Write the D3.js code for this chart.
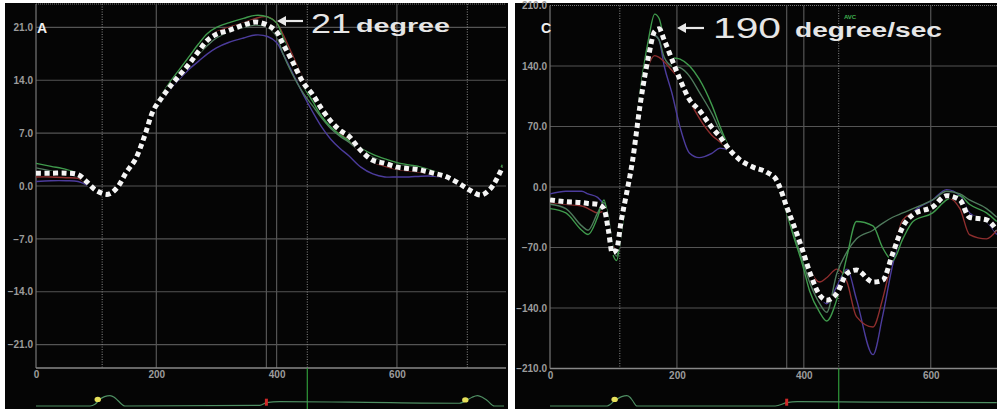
<!DOCTYPE html>
<html><head><meta charset="utf-8">
<script src="https://cdn.jsdelivr.net/npm/d3@7/dist/d3.min.js"></script>
<style>html,body{margin:0;padding:0;background:#fff;}svg{display:block;}</style>
</head><body>
<svg id="c" width="997" height="409"></svg>
<script>
// ---------- DATA ----------
// Panel A: rotation (degree) vs time (ms)
const leftTime   = [0,25,50,70,85,100,120,135,150,165,180,195,210,225,240,255,270,285,300,320,345,365,385,400,410,425,445,460,475,490,505,520,540,560,580,600,620,640,660,680,700,720,740,755,765,775];
const leftMean   = [1.7,1.7,1.7,1.5,0.5,-0.6,-1.1,-0.2,1.8,3.5,6.5,10,11.8,13.4,14.8,16.2,17.8,19.3,20.1,20.6,21.3,21.7,21.3,20.4,18.9,16.7,13.6,12.1,10.2,8.6,7.4,6.6,4.7,3.4,3.0,2.5,2.3,2.1,1.7,1.3,0.5,-0.5,-1.2,-0.4,0.8,2.4];
const leftGreen  = [3.0,2.6,2.2,1.6,0.6,-0.4,-1.0,-0.3,1.8,3.6,6.6,10.2,12.2,14.0,15.6,17.2,18.8,20.2,21.0,21.6,22.2,22.6,22.4,21.6,19.8,17.0,13.2,11.2,9.2,7.8,6.8,6.0,5.0,4.2,3.6,3.1,2.8,2.5,2.0,1.5,0.7,-0.3,-1.0,-0.2,1.0,2.8];
const leftDark   = [2.4,2.0,1.6,1.2,0.3,-0.5,-1.1,-0.3,1.6,3.3,6.2,9.6,11.4,13.2,14.6,16.0,17.4,18.6,19.6,20.4,21.0,21.3,21.0,19.8,17.6,15.0,12.2,10.6,9.0,7.6,6.6,5.8,4.6,3.8,3.2,2.8,2.6,2.3,1.8,1.2,0.4,-0.5,-1.1,-0.3,0.9,2.6];
const leftRed    = [1.2,1.2,1.1,1.0,0.3,-0.5,-1.0,-0.2,1.7,3.5,6.4,10.0,11.8,13.4,14.8,16.2,17.8,19.4,20.4,21.0,21.6,22.2,22.4,21.6,20.2,17.6,14.0,12.0,10.0,8.4,7.0,6.0,4.4,3.2,2.6,2.2,2.0,1.8,1.5,1.1,0.4,-0.5,-1.1,-0.3,0.9,2.6];
const leftPurple = [0.6,0.7,0.7,0.6,0.1,-0.6,-1.0,-0.3,1.6,3.4,6.2,9.6,11.4,13.0,14.3,15.5,16.5,17.5,18.3,19.0,19.6,20.0,19.8,19.0,17.6,15.2,12.0,9.8,7.8,6.2,5.0,4.0,2.5,1.6,1.2,1.2,1.2,1.3,1.3,1.1,0.4,-0.5,-1.1,-0.3,0.9,2.5];
const leftYTicks = [21,14,7,0,-7,-14,-21];
const leftXTicks = [0,200,400,600];
const leftGridX  = [200,400,600];
const leftSolidEvents  = [383];
const leftDottedEvents = [110,451,717];
const leftAvc = 451;
const leftEcgTime  = [0,90,98,106,114,123,130,136,148,372,383,405,521,704,710,717,725,734,742,750,762,778];
const leftEcgValue = [0,0,0.15,0.6,0.85,0.95,0.8,0.5,0,0.05,0.3,0.4,0.35,0.25,0.35,0.55,0.8,0.95,0.8,0.5,0,0];
const leftDots = [106,717];
const leftMark = 383;

// Panel C: rotation rate (degree/sec) vs time (ms)
const rightTime   = [0,25,50,60,75,85,92,98,105,112,120,130,142,155,165,172,180,192,205,220,235,255,268,283,300,320,342,357,362,373,383,398,409,425,436,452,468,483,509,524,540,556,572,603,625,646,661,688,704];
const rightMean   = [-15,-17,-18,-19,-20,-25,-50,-76,-72,-40,-10,30,95,150,180,183,170,148,124,101,89,69,58,43,31,23,17,8,0,-23,-42,-73,-98,-125,-131,-123,-100,-96,-110,-108,-77,-46,-32,-23,-10,-15,-35,-38,-50];
const rightGreen  = [-25,-30,-50,-55,-35,-15,-40,-75,-85,-55,-15,35,110,170,200,195,170,150,148,140,125,95,70,45,30,22,15,5,-5,-30,-55,-90,-120,-145,-155,-130,-80,-40,-45,-70,-85,-60,-40,-30,-15,-10,-20,-30,-40];
const rightDark   = [-20,-25,-45,-50,-30,-18,-35,-65,-80,-50,-12,30,100,160,175,170,150,140,138,128,110,85,65,45,30,22,15,6,-3,-28,-50,-85,-110,-135,-145,-100,-75,-60,-50,-42,-35,-30,-25,-15,-5,-8,-15,-25,-35];
const rightRed    = [-18,-20,-22,-25,-30,-28,-45,-70,-70,-40,-10,30,100,140,152,150,145,135,124,100,80,60,52,42,31,23,17,8,0,-23,-42,-73,-95,-110,-105,-95,-110,-150,-162,-130,-80,-38,-30,-22,-12,-25,-55,-60,-50];
const rightPurple = [-8,-5,-5,-8,-12,-22,-48,-72,-70,-40,-10,35,105,160,175,170,140,109,69,39,34,39,45,42,31,23,17,8,0,-23,-42,-73,-100,-125,-135,-115,-95,-130,-194,-150,-90,-50,-30,-15,-3,-10,-30,-40,-55];
const rightYTicks = [210,140,70,0,-70,-140,-210];
const rightXTicks = [0,200,400,600];
const rightGridX  = [200,400,600];
const rightSolidEvents  = [373];
const rightDottedEvents = [110,455];
const rightAvc = 455;
const rightEcgTime  = [0,90,95,100,105,113,121,126,130,137,355,373,390,500,704];
const rightEcgValue = [0,0,0.15,0.4,0.6,0.85,0.95,0.8,0.5,0,0,0.3,0.4,0.35,0.3];
const rightDots = [105];
const rightMark = 373;

// ---------- DRAW ----------
const svg = d3.select("#c");
const COLORS = {green:"#3f9a4c", dark:"#4f7a5c", red:"#8e2e2e", purple:"#4c3c9c"};

function panel(o){
  const g = svg.append("g");
  g.append("rect").attr("x",o.px0).attr("y",3).attr("width",o.px1-o.px0).attr("height",406).attr("fill","#050505");
  const x = d3.scaleLinear().domain(o.xDomain).range([o.ax, o.axEnd]);
  const y = d3.scaleLinear().domain(o.yDomain).range([o.yBottom, o.yTop]);
  const right = o.px1 - 2;
  // top dotted border
  g.append("line").attr("x1",o.ax).attr("x2",right).attr("y1",o.yTop).attr("y2",o.yTop)
    .attr("stroke","#777").attr("stroke-dasharray","1,1");
  // horizontal grid
  g.selectAll(".hg").data(o.yTicks.filter(v=>v!==o.yDomain[0] && Math.abs(v)<o.yDomain[1]-0.5)).join("line")
    .attr("x1",o.ax).attr("x2",right).attr("y1",d=>y(d)).attr("y2",d=>y(d))
    .attr("stroke","#555").attr("stroke-width",1.2);
  // vertical grid
  g.selectAll(".vg").data(o.gridX).join("line")
    .attr("x1",d=>x(d)).attr("x2",d=>x(d)).attr("y1",o.yTop).attr("y2",o.yBottom)
    .attr("stroke","#555").attr("stroke-width",1.2);
  g.selectAll(".ve").data(o.solidEvents).join("line")
    .attr("x1",d=>x(d)).attr("x2",d=>x(d)).attr("y1",o.yTop).attr("y2",o.yBottom)
    .attr("stroke","#555").attr("stroke-width",1.2);
  g.selectAll(".vd").data(o.dottedEvents).join("line")
    .attr("x1",d=>x(d)).attr("x2",d=>x(d)).attr("y1",o.yTop).attr("y2",o.yBottom)
    .attr("stroke","#8a8a8a").attr("stroke-width",1).attr("stroke-dasharray","1,1.5");
  // axes lines
  g.append("line").attr("x1",o.ax).attr("x2",o.ax).attr("y1",o.yTop).attr("y2",o.yBottom).attr("stroke","#777").attr("stroke-width",1.2);
  g.append("line").attr("x1",o.ax).attr("x2",right).attr("y1",o.yBottom).attr("y2",o.yBottom).attr("stroke","#888").attr("stroke-width",1.5);
  // y tick labels via axis
  const yAxis = d3.axisLeft(y).tickValues(o.yTicks).tickSize(0).tickPadding(3).tickFormat(d3.format(".1f"));
  const ya = g.append("g").attr("transform",`translate(${o.ax},0)`).call(yAxis);
  ya.select(".domain").remove();
  ya.selectAll("text").attr("fill","#9c9c9c").attr("font-family","Liberation Sans, Arial, sans-serif").attr("font-size",10).attr("font-weight","bold");
  const xAxis = d3.axisBottom(x).tickValues(o.xTicks).tickSize(0).tickPadding(3).tickFormat(d3.format("d"));
  const xa = g.append("g").attr("transform",`translate(0,${o.yBottom})`).call(xAxis);
  xa.select(".domain").remove();
  xa.selectAll("text").attr("fill","#9c9c9c").attr("font-family","Liberation Sans, Arial, sans-serif").attr("font-size",10).attr("font-weight","bold");

  // curves
  const clipId = "clip"+o.id;
  svg.append("clipPath").attr("id",clipId).append("rect").attr("x",o.ax).attr("y",o.yTop).attr("width",right-o.ax).attr("height",o.yBottom-o.yTop);
  const cg = g.append("g").attr("clip-path",`url(#${clipId})`);
  const line = d3.line().x((d,i)=>x(o.time[i])).y(d=>y(d)).curve(o.curve);
  o.series.forEach(s=>{
    cg.append("path").attr("d",line(s.values)).attr("fill","none").attr("stroke",COLORS[s.key]).attr("stroke-width",1.4);
  });
  cg.append("path").attr("d",line(o.mean)).attr("fill","none").attr("stroke","#000").attr("stroke-width",5);
  cg.append("path").attr("d",line(o.mean)).attr("fill","none").attr("stroke","#f4f4f4").attr("stroke-width",5).attr("stroke-dasharray","5,3.5");

  // ECG strip
  const ey = d3.scaleLinear().domain([0,1]).range([406,395]);
  const eline = d3.line().x((d,i)=>x(o.ecgTime[i])).y(d=>ey(d)).curve(d3.curveMonotoneX);
  g.append("line").attr("x1",x(o.avc)).attr("x2",x(o.avc)).attr("y1",o.yBottom).attr("y2",409).attr("stroke","#2f9a3a").attr("stroke-width",1.2);
  g.append("path").attr("d",eline(o.ecgValue)).attr("fill","none").attr("stroke","#4f8f63").attr("stroke-width",1.2);
  const ecgAt = t => d3.scaleLinear().domain(o.ecgTime).range(o.ecgValue)(t);
  g.selectAll(".dot").data(o.dots).join("ellipse").attr("cx",d=>x(d)-2).attr("cy",d=>ey(ecgAt(d))).attr("rx",3.2).attr("ry",2.6).attr("fill","#e6e05a");
  g.append("rect").attr("x",x(o.mark)-1.5).attr("y",ey(ecgAt(o.mark))-4).attr("width",3).attr("height",7).attr("fill","#d02828");
  return {g,x,y};
}

const L = panel({id:"L", px0:5, px1:508, ax:36, axEnd:504, xDomain:[0,778], yDomain:[-24.1,24.1], yTop:4, yBottom:368,
  yTicks:leftYTicks, xTicks:leftXTicks, gridX:leftGridX, solidEvents:leftSolidEvents, dottedEvents:leftDottedEvents,
  time:leftTime, mean:leftMean, curve:d3.curveCatmullRom.alpha(0.5),
  series:[{key:"purple",values:leftPurple},{key:"red",values:leftRed},{key:"dark",values:leftDark},{key:"green",values:leftGreen}],
  avc:leftAvc, ecgTime:leftEcgTime, ecgValue:leftEcgValue, dots:leftDots, mark:leftMark});

const R = panel({id:"R", px0:515, px1:999, ax:550, axEnd:998, xDomain:[0,706], yDomain:[-210,210], yTop:5.5, yBottom:368.5,
  yTicks:rightYTicks, xTicks:rightXTicks, gridX:rightGridX, solidEvents:rightSolidEvents, dottedEvents:rightDottedEvents,
  time:rightTime, mean:rightMean, curve:d3.curveMonotoneX,
  series:[{key:"purple",values:rightPurple},{key:"red",values:rightRed},{key:"dark",values:rightDark},{key:"green",values:rightGreen}],
  avc:rightAvc, ecgTime:rightEcgTime, ecgValue:rightEcgValue, dots:rightDots, mark:rightMark});

// labels & annotations
const F = "Liberation Sans, Arial, sans-serif";
svg.append("text").attr("x",37).attr("y",33).text("A").attr("fill","#f0f0f0").attr("font-family",F).attr("font-size",14).attr("font-weight","bold");
svg.append("text").attr("x",541).attr("y",33).text("C").attr("fill","#f0f0f0").attr("font-family",F).attr("font-size",14).attr("font-weight","bold");
svg.append("text").attr("x",850).attr("y",19).attr("text-anchor","middle").text("AVC").attr("fill","#3fb04f").attr("font-family",F).attr("font-size",6).attr("font-weight","bold");

function arrow(x0,x1,yy){
  svg.append("line").attr("x1",x0+6).attr("x2",x1).attr("y1",yy).attr("y2",yy).attr("stroke","#e8e8e8").attr("stroke-width",2.2);
  svg.append("path").attr("d",`M${x0},${yy} L${x0+9},${yy-5} L${x0+9},${yy+5} Z`).attr("fill","#e8e8e8");
}
arrow(277,303,21);
svg.append("text").attr("x",311).attr("y",33).text("21").attr("fill","#e6e6e6").attr("font-family",F).attr("font-size",28)
  .attr("textLength",40).attr("lengthAdjust","spacingAndGlyphs");
svg.append("text").attr("x",356).attr("y",32).text("degree").attr("fill","#e6e6e6").attr("font-family",F).attr("font-size",19).attr("font-weight","bold")
  .attr("textLength",94).attr("lengthAdjust","spacingAndGlyphs");
arrow(677,704,28);
svg.append("text").attr("x",713).attr("y",38).text("190").attr("fill","#e6e6e6").attr("font-family",F).attr("font-size",29)
  .attr("textLength",68).attr("lengthAdjust","spacingAndGlyphs");
svg.append("text").attr("x",795).attr("y",37).text("degree/sec").attr("fill","#e6e6e6").attr("font-family",F).attr("font-size",20).attr("font-weight","bold")
  .attr("textLength",147).attr("lengthAdjust","spacingAndGlyphs");
</script>
</body></html>
